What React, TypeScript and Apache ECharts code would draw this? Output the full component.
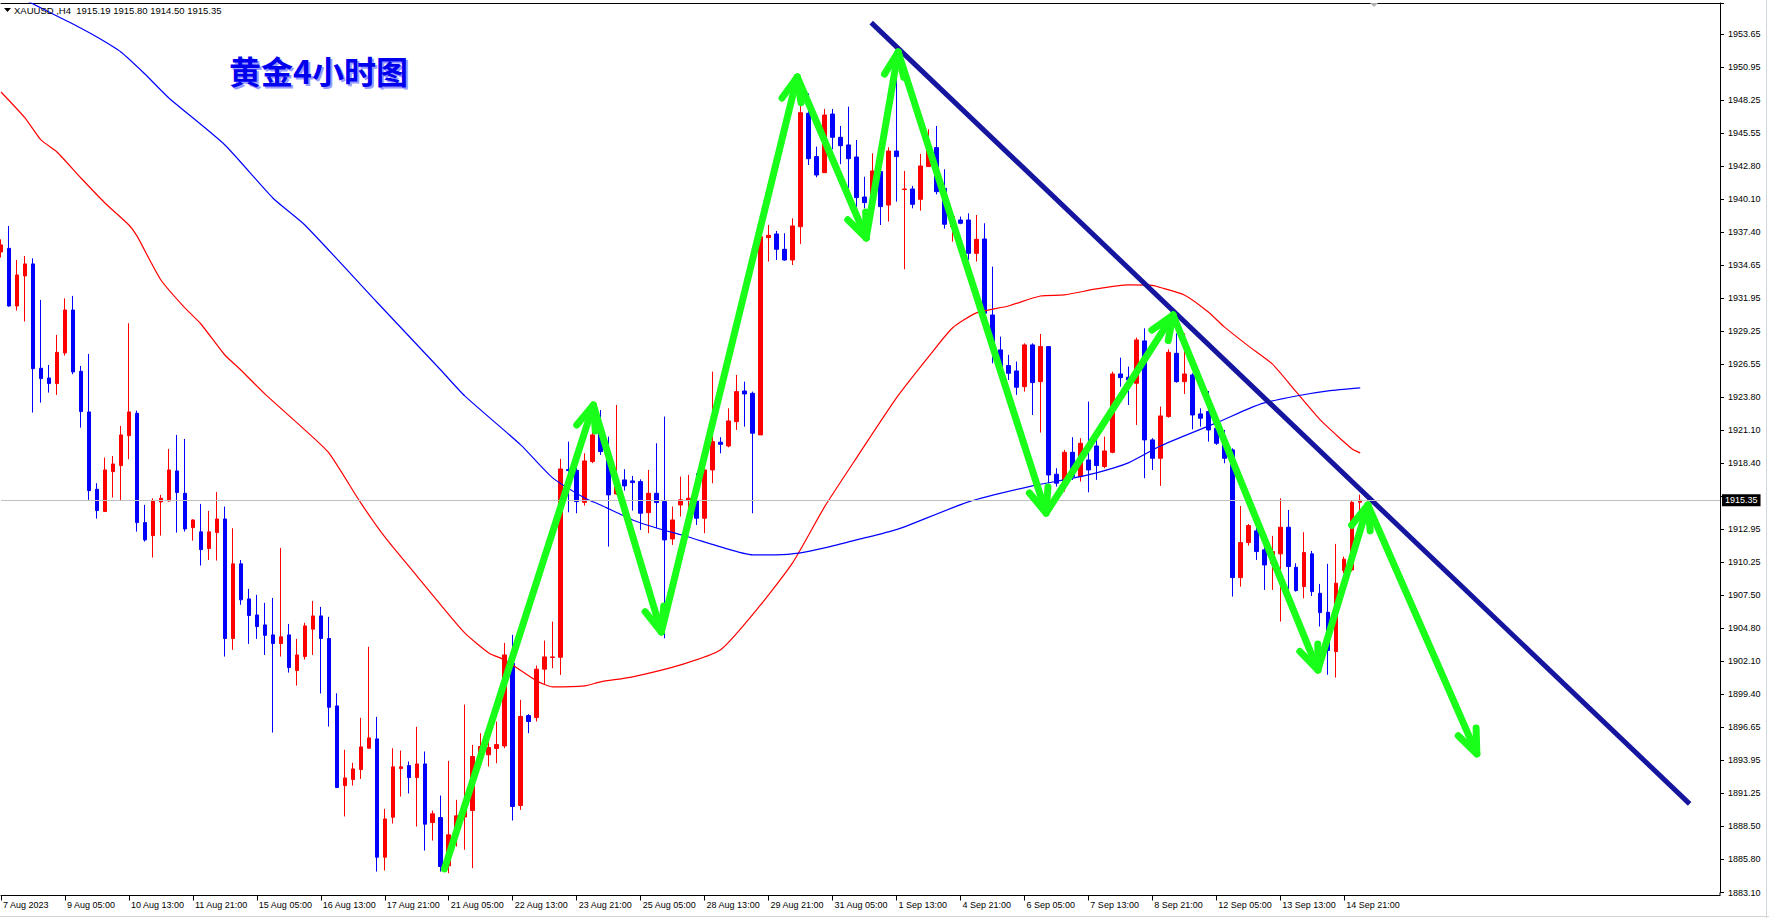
import React, { useEffect, useRef } from 'react';
import * as echarts from 'echarts';

const W = 1769;
const H = 918;
const N_SLOTS = 216; // category slots (bars + empty space on the right)

// x-axis labels, one every 8 bars (H4 candles)
const timeLabels = [
  '7 Aug 2023', '9 Aug 05:00', '10 Aug 13:00', '11 Aug 21:00', '15 Aug 05:00', '16 Aug 13:00',
  '17 Aug 21:00', '21 Aug 05:00', '22 Aug 13:00', '23 Aug 21:00', '25 Aug 05:00', '28 Aug 13:00',
  '29 Aug 21:00', '31 Aug 05:00', '1 Sep 13:00', '4 Sep 21:00', '6 Sep 05:00', '7 Sep 13:00',
  '8 Sep 21:00', '12 Sep 05:00', '13 Sep 13:00', '14 Sep 21:00',
];

// price-scale labels (bottom to top); the 1915.65 level is hidden under the last-price box
const yTickLabels = [
  '1883.10', '1885.80', '1888.50', '1891.25', '1893.95', '1896.65', '1899.40', '1902.10', '1904.80',
  '1907.50', '1910.25', '1912.95', '', '1918.40', '1921.10', '1923.80', '1926.55', '1929.25',
  '1931.95', '1934.65', '1937.40', '1940.10', '1942.80', '1945.55', '1948.25', '1950.95', '1953.65',
];
const yTickBase = 1883.10;
const yTickStep = 2.7135;
const yMin = 1883.10;
const yMax = 1956.23;

// OHLC of the visible bars
const opens = [
  1935.76, 1936.06, 1931.32, 1933.79, 1934.78, 1926.20, 1925.40, 1924.94, 1927.46, 1930.99,
  1925.95, 1922.61, 1916.25, 1914.42, 1917.70, 1918.20, 1920.66, 1922.50, 1913.51, 1912.44,
  1915.21, 1915.29, 1917.76, 1915.92, 1913.10, 1912.75, 1911.38, 1912.69, 1913.81, 1903.98,
  1910.12, 1907.24, 1905.92, 1905.10, 1904.28, 1903.57, 1904.28, 1901.35, 1902.50, 1904.75,
  1905.84, 1903.98, 1898.44, 1891.89, 1892.39, 1893.21, 1894.96, 1895.73, 1886.00, 1889.29,
  1893.29, 1893.54, 1892.55, 1893.67, 1888.85, 1889.26, 1885.29, 1887.84, 1889.30, 1889.84,
  1894.55, 1894.42, 1894.94, 1895.15, 1901.95, 1890.25, 1897.65, 1897.48, 1901.46, 1902.42,
  1902.44, 1917.87, 1917.81, 1915.18, 1918.53, 1921.40, 1919.35, 1915.87, 1917.02, 1916.94,
  1916.88, 1914.33, 1915.92, 1915.24, 1912.17, 1914.96, 1915.32, 1915.32, 1913.87, 1917.84,
  1920.12, 1919.81, 1921.81, 1924.33, 1924.14, 1920.72, 1936.94, 1937.24, 1935.98, 1935.10,
  1937.84, 1947.16, 1943.60, 1942.28, 1947.10, 1945.19, 1944.56, 1943.57, 1940.28, 1939.76,
  1942.37, 1939.62, 1944.06, 1940.89, 1940.94, 1940.09, 1942.78, 1944.34, 1940.99, 1937.84,
  1938.39, 1938.39, 1935.65, 1936.83, 1930.58, 1927.71, 1926.42, 1925.98, 1924.69, 1928.12,
  1925.10, 1927.98, 1917.49, 1916.47, 1919.29, 1917.29, 1918.66, 1919.81, 1918.12, 1919.29,
  1925.73, 1925.46, 1924.97, 1928.45, 1920.31, 1918.80, 1922.23, 1927.43, 1925.10, 1925.65,
  1922.45, 1922.64, 1921.27, 1920.03, 1919.49, 1908.99, 1911.87, 1912.83, 1911.27, 1910.17,
  1910.94, 1913.13, 1909.84, 1908.25, 1910.94, 1907.70, 1906.14, 1902.91, 1909.57, 1909.62,
  1915.19,
];
const highs = [
  1936.80, 1937.90, 1935.10, 1935.43, 1935.24, 1931.82, 1926.47, 1928.94, 1931.95, 1932.15,
  1926.39, 1927.38, 1916.75, 1918.86, 1918.99, 1921.46, 1929.90, 1922.72, 1914.97, 1915.51,
  1915.79, 1919.57, 1920.72, 1920.39, 1913.79, 1915.05, 1914.47, 1916.03, 1914.83, 1913.05,
  1910.44, 1908.06, 1907.57, 1906.91, 1907.32, 1911.43, 1905.18, 1903.95, 1905.27, 1907.07,
  1906.58, 1905.76, 1899.48, 1894.83, 1893.76, 1897.46, 1903.30, 1897.54, 1889.98, 1894.96,
  1894.77, 1893.87, 1896.72, 1894.69, 1889.84, 1891.07, 1893.92, 1890.72, 1898.55, 1895.24,
  1896.20, 1896.74, 1897.15, 1903.62, 1904.28, 1898.94, 1897.76, 1901.76, 1903.81, 1905.37,
  1918.75, 1920.17, 1918.39, 1919.21, 1921.40, 1922.77, 1920.58, 1923.18, 1917.90, 1917.35,
  1917.07, 1917.84, 1920.03, 1922.23, 1914.83, 1917.29, 1917.43, 1917.57, 1917.98, 1925.92,
  1920.53, 1922.91, 1925.65, 1925.10, 1924.28, 1937.16, 1937.98, 1937.49, 1937.30, 1938.53,
  1948.80, 1948.80, 1944.42, 1947.52, 1947.52, 1946.12, 1947.71, 1944.97, 1941.95, 1943.87,
  1942.78, 1944.37, 1950.80, 1942.42, 1941.19, 1943.82, 1945.85, 1946.12, 1942.56, 1938.94,
  1938.67, 1938.94, 1938.80, 1938.12, 1934.56, 1928.80, 1927.30, 1926.75, 1928.25, 1928.25,
  1929.02, 1927.98, 1917.98, 1919.49, 1920.53, 1920.45, 1923.46, 1920.58, 1920.58, 1925.92,
  1927.07, 1926.34, 1928.72, 1929.49, 1920.45, 1923.05, 1927.76, 1929.07, 1929.07, 1925.79,
  1922.91, 1924.33, 1921.40, 1921.13, 1919.62, 1914.88, 1913.40, 1913.10, 1911.68, 1912.42,
  1915.51, 1914.55, 1910.17, 1912.72, 1911.18, 1908.47, 1910.12, 1911.76, 1910.72, 1915.32,
  1915.80,
];
const lows = [
  1935.30, 1931.27, 1930.94, 1930.04, 1922.56, 1923.38, 1924.20, 1924.01, 1927.24, 1925.71,
  1921.32, 1915.38, 1913.84, 1914.42, 1915.57, 1915.32, 1918.72, 1912.77, 1911.95, 1910.64,
  1912.44, 1915.24, 1912.69, 1912.77, 1912.03, 1909.98, 1910.44, 1910.39, 1902.50, 1903.05,
  1906.75, 1903.54, 1903.95, 1902.63, 1896.25, 1902.50, 1901.18, 1900.11, 1902.25, 1902.63,
  1899.46, 1896.74, 1891.68, 1889.35, 1891.89, 1892.44, 1894.96, 1884.82, 1884.91, 1888.77,
  1890.99, 1891.24, 1888.52, 1886.55, 1887.37, 1884.82, 1884.69, 1886.88, 1886.61, 1885.10,
  1893.46, 1893.46, 1893.73, 1894.96, 1889.02, 1889.89, 1896.20, 1897.16, 1900.17, 1901.54,
  1900.99, 1914.36, 1914.28, 1914.91, 1918.40, 1919.07, 1911.54, 1915.79, 1916.14, 1914.50,
  1912.91, 1912.64, 1913.05, 1904.00, 1911.68, 1914.01, 1914.28, 1913.32, 1912.64, 1916.75,
  1919.21, 1919.70, 1921.13, 1921.40, 1914.28, 1920.72, 1934.97, 1935.10, 1935.05, 1934.69,
  1936.42, 1942.91, 1941.90, 1942.28, 1944.20, 1942.98, 1940.99, 1939.43, 1939.35, 1939.49,
  1937.98, 1938.26, 1939.90, 1934.34, 1939.35, 1939.16, 1942.78, 1940.50, 1937.68, 1936.61,
  1938.04, 1935.10, 1934.97, 1930.45, 1926.61, 1925.19, 1925.24, 1924.01, 1924.28, 1922.36,
  1920.91, 1916.75, 1916.47, 1916.06, 1917.02, 1916.88, 1916.00, 1917.02, 1917.98, 1919.21,
  1924.69, 1923.18, 1921.54, 1917.16, 1917.84, 1916.53, 1922.14, 1925.02, 1924.09, 1921.18,
  1921.40, 1920.17, 1919.90, 1918.39, 1907.43, 1908.25, 1911.62, 1910.44, 1907.98, 1907.98,
  1905.37, 1907.98, 1907.84, 1907.29, 1907.48, 1904.97, 1901.00, 1900.77, 1909.35, 1909.49,
  1914.50,
];
const closes = [
  1936.34, 1931.32, 1933.87, 1934.78, 1926.17, 1925.35, 1924.94, 1927.51, 1930.99, 1925.90,
  1922.64, 1916.14, 1914.50, 1917.84, 1918.33, 1920.72, 1922.61, 1913.51, 1912.09, 1915.29,
  1915.51, 1917.84, 1915.98, 1912.99, 1913.73, 1911.29, 1912.75, 1913.81, 1903.98, 1910.12,
  1907.16, 1905.87, 1904.96, 1904.24, 1903.57, 1904.12, 1901.59, 1902.63, 1905.02, 1905.84,
  1903.98, 1898.33, 1891.73, 1892.52, 1893.26, 1895.07, 1895.81, 1886.00, 1889.15, 1893.43,
  1893.43, 1892.55, 1893.67, 1888.72, 1889.57, 1885.24, 1887.84, 1889.40, 1890.20, 1894.28,
  1895.10, 1895.02, 1895.26, 1902.63, 1890.17, 1897.57, 1897.16, 1901.46, 1902.47, 1902.47,
  1917.92, 1917.79, 1915.24, 1918.58, 1920.72, 1919.35, 1915.79, 1916.47, 1916.53, 1916.80,
  1914.28, 1915.92, 1915.16, 1912.09, 1913.73, 1915.38, 1915.51, 1913.87, 1917.84, 1920.17,
  1919.95, 1921.87, 1924.28, 1924.09, 1920.86, 1937.02, 1937.13, 1935.98, 1935.10, 1937.90,
  1947.21, 1943.43, 1942.09, 1947.02, 1945.19, 1944.50, 1943.43, 1940.23, 1939.82, 1942.42,
  1939.49, 1944.06, 1943.60, 1940.94, 1939.68, 1942.83, 1944.15, 1940.72, 1938.04, 1938.67,
  1938.12, 1935.65, 1936.80, 1930.72, 1927.71, 1926.34, 1925.79, 1924.64, 1928.12, 1925.02,
  1927.98, 1917.43, 1916.75, 1919.29, 1917.29, 1920.03, 1917.84, 1918.20, 1919.40, 1925.73,
  1925.43, 1925.24, 1928.53, 1920.31, 1918.80, 1922.28, 1927.51, 1925.10, 1925.73, 1922.36,
  1922.09, 1921.13, 1920.03, 1918.80, 1908.99, 1911.87, 1913.27, 1911.13, 1910.03, 1911.13,
  1913.13, 1909.90, 1907.92, 1911.05, 1907.84, 1906.11, 1903.00, 1908.53, 1910.50, 1915.18,
  1915.35,
];

// moving averages, read at sample bars (bar slot, price)
const maRedSlot = [
  0, 3, 5, 7, 10, 13, 16, 17, 20, 23, 25, 28, 30, 33, 38, 41, 45, 48, 52, 55, 58, 61, 63, 67, 69, 73,
  75, 79, 85, 90, 95, 99, 103, 107, 112, 116, 119, 122, 126, 130, 133, 137, 141, 144, 145, 148, 151,
  153, 156, 159, 162, 165, 167, 169, 170,
];
const maRedVal = [
  1948.91, 1946.78, 1944.97, 1943.98, 1941.84, 1939.79, 1937.98, 1937.08, 1933.46, 1931.16, 1929.84,
  1927.29, 1926.06, 1924.09, 1921.13, 1919.24, 1915.13, 1912.33, 1909.13, 1906.74, 1904.44, 1902.80,
  1902.22, 1900.50, 1900.00, 1900.09, 1900.42, 1900.83, 1901.81, 1903.05, 1906.74, 1910.20, 1914.80,
  1918.83, 1923.76, 1927.13, 1929.51, 1930.75, 1931.32, 1932.14, 1932.23, 1932.72, 1933.05, 1933.01,
  1932.84, 1932.23, 1930.83, 1929.60, 1928.04, 1926.56, 1924.25, 1921.95, 1920.72, 1919.57, 1919.24,
];
const maBlueSlot = [
  0, 3, 6, 9, 12, 15, 18, 21, 28, 34, 38, 47, 55, 58, 65, 69, 73, 75, 79, 82, 86, 90, 94, 97, 100,
  103, 107, 111, 113, 121, 129, 133, 137, 141, 145, 148, 152, 156, 158, 162, 166, 170,
];
const maBlueVal = [
  1957.38, 1956.48, 1955.49, 1954.50, 1953.43, 1952.20, 1950.39, 1948.42, 1944.56, 1940.20, 1937.98,
  1931.65, 1926.06, 1923.93, 1919.90, 1917.19, 1915.54, 1914.96, 1913.73, 1913.07, 1912.33, 1911.51,
  1910.86, 1910.86, 1911.02, 1911.43, 1912.09, 1912.75, 1913.16, 1915.21, 1916.53, 1917.02, 1917.60,
  1918.42, 1919.81, 1920.64, 1921.71, 1922.86, 1923.35, 1923.92, 1924.34, 1924.58,
];

// hand-drawn annotations (bar slot, price)
const zigzag = [
  [55.46, 1885.03], [74.09, 1923.18], [82.59, 1904.52], [99.59, 1950.15], [108.21, 1936.91],
  [112.21, 1952.20], [130.71, 1914.30], [146.59, 1930.58], [164.71, 1901.39], [170.96, 1914.96],
  [184.59, 1894.49],
];
const trendline = [[108.84, 1954.62], [211.2, 1890.39]];
const lastPrice = 1915.35;
const headerText = 'XAUUSD ,H4  1915.19 1915.80 1914.50 1915.35';
const titleText = '黄金4小时图';

const LABEL_FONT = 'Liberation Sans, Arial, sans-serif';

export default function App() {
  const ref = useRef<HTMLDivElement>(null);

  useEffect(() => {
    if (!ref.current) return;
    const chart = echarts.init(ref.current, null, { renderer: 'svg' });

    const categories = Array.from({ length: N_SLOTS }, (_, k) => String(k));
    const candles = opens.map((o, k) => [o, closes[k], lows[k], highs[k]]);
    const showLabel = (index: number) => index % 8 === 0 && index / 8 < timeLabels.length;
    const arrowSegs = zigzag.slice(0, -1).map((p, j) => [p[0], p[1], zigzag[j + 1][0], zigzag[j + 1][1]]);

    const gridTop = 3;
    const gridHeight = 889.5;

    const option: any = {
      animation: false,
      backgroundColor: '#ffffff',
      grid: { left: 0, top: gridTop, width: 1720, height: gridHeight, containLabel: false },
      xAxis: [
        {
          type: 'category',
          data: categories,
          boundaryGap: false,
          position: 'bottom',
          offset: 3,
          axisLine: { show: true, onZero: false, lineStyle: { color: '#000', width: 1 } },
          axisTick: { show: true, interval: showLabel, length: 5, lineStyle: { color: '#000' } },
          axisLabel: {
            show: true,
            interval: showLabel,
            formatter: (_v: string, index: number) => timeLabels[index / 8] ?? '',
            align: 'left',
            padding: [0, 0, 0, 2],
            margin: 5,
            fontSize: 9,
            fontFamily: LABEL_FONT,
            color: '#000',
          },
          splitLine: { show: false },
        },
        {
          type: 'value',
          min: 0,
          max: N_SLOTS - 1,
          position: 'top',
          axisLine: { show: true, onZero: false, lineStyle: { color: '#000', width: 1 } },
          axisTick: { show: false },
          axisLabel: { show: false },
          splitLine: { show: false },
        },
      ],
      yAxis: [
        { type: 'value', min: yMin, max: yMax, position: 'right', show: false, splitLine: { show: false } },
        {
          type: 'value',
          min: 0,
          max: (yMax - yTickBase) / yTickStep,
          interval: 1,
          position: 'right',
          axisLine: { show: true, onZero: false, lineStyle: { color: '#000', width: 1 } },
          axisTick: { show: true, length: 4, lineStyle: { color: '#000' } },
          axisLabel: {
            margin: 8,
            fontSize: 9,
            fontFamily: LABEL_FONT,
            color: '#000',
            formatter: (v: number) => {
              const r = Math.round(v);
              return Math.abs(v - r) < 1e-6 ? yTickLabels[r] ?? '' : '';
            },
          },
          splitLine: { show: false },
        },
      ],
      series: [
        {
          type: 'line',
          name: 'price',
          xAxisIndex: 1,
          yAxisIndex: 0,
          data: [],
          z: 1,
          clip: false,
          silent: true,
          markLine: {
            silent: true,
            symbol: ['none', 'none'],
            animation: false,
            data: [{ yAxis: lastPrice }],
            lineStyle: { color: '#c0c0c0', width: 1, type: 'solid' },
            label: {
              show: true,
              position: 'end',
              formatter: lastPrice.toFixed(2),
              color: '#fff',
              backgroundColor: '#000',
              padding: [2, 3, 1, 3],
              fontSize: 9,
              fontFamily: LABEL_FONT,
              distance: 2,
            },
          },
        },
        {
          type: 'candlestick',
          xAxisIndex: 0,
          yAxisIndex: 0,
          data: candles,
          barWidth: 4,
          z: 2,
          silent: true,
          itemStyle: {
            color: '#ff0000',
            color0: '#0000ff',
            borderColor: '#ff0000',
            borderColor0: '#0000ff',
            borderWidth: 1,
          },
        },
        {
          type: 'line',
          xAxisIndex: 1,
          yAxisIndex: 0,
          data: maRedSlot.map((k, j) => [k, maRedVal[j]]),
          showSymbol: false,
          symbol: 'none',
          smooth: 0.2,
          z: 3,
          silent: true,
          lineStyle: { color: '#ff0000', width: 1.2 },
        },
        {
          type: 'line',
          xAxisIndex: 1,
          yAxisIndex: 0,
          data: maBlueSlot.map((k, j) => [k, maBlueVal[j]]),
          showSymbol: false,
          symbol: 'none',
          smooth: 0.2,
          z: 3,
          silent: true,
          lineStyle: { color: '#0000ff', width: 1.2 },
        },
        {
          type: 'line',
          xAxisIndex: 1,
          yAxisIndex: 0,
          data: trendline,
          showSymbol: false,
          symbol: 'none',
          z: 4,
          silent: true,
          lineStyle: { color: '#15159f', width: 5 },
        },
        {
          type: 'custom',
          xAxisIndex: 1,
          yAxisIndex: 0,
          data: arrowSegs,
          encode: { x: [0, 2], y: [1, 3] },
          z: 5,
          silent: true,
          renderItem: (_params: any, api: any) => {
            const a = api.coord([api.value(0), api.value(1)]);
            const b = api.coord([api.value(2), api.value(3)]);
            const back = Math.atan2(a[1] - b[1], a[0] - b[0]);
            const len = 26;
            const spread = (22 * Math.PI) / 180;
            const b1 = [b[0] + len * Math.cos(back + spread), b[1] + len * Math.sin(back + spread)];
            const b2 = [b[0] + len * Math.cos(back - spread), b[1] + len * Math.sin(back - spread)];
            const style = { stroke: '#1aff1a', lineWidth: 7, lineCap: 'round', lineJoin: 'round', fill: null };
            return {
              type: 'group',
              children: [
                { type: 'polyline', shape: { points: [a, b] }, style },
                { type: 'polyline', shape: { points: [b1, b, b2] }, style },
              ],
            };
          },
        },
      ],
      graphic: [
        { type: 'polygon', z: 10, shape: { points: [[4, 8], [11, 8], [7.5, 12]] }, style: { fill: '#000' } },
        {
          type: 'text',
          z: 10,
          left: 14,
          top: 5,
          style: { text: headerText, fontSize: 9.5, fontFamily: LABEL_FONT, fill: '#000' },
        },
        {
          type: 'text',
          z: 10,
          left: 231,
          top: 56,
          style: {
            text: titleText,
            fontSize: 32,
            fontWeight: 'bold',
            fontFamily: 'Noto Sans CJK SC',
            fill: '#9a9aff',
          },
        },
        {
          type: 'text',
          z: 11,
          left: 229,
          top: 54,
          style: {
            text: titleText,
            fontSize: 32,
            fontWeight: 'bold',
            fontFamily: 'Noto Sans CJK SC',
            fill: '#0000ee',
          },
        },
        { type: 'polygon', z: 10, shape: { points: [[1370, 3], [1378, 3], [1374, 7]] }, style: { fill: '#b0b0b0' } },
        { type: 'line', z: 10, shape: { x1: 1720, y1: 892.5, x2: 1720, y2: 895.5 }, style: { stroke: '#000', lineWidth: 1 } },
        { type: 'line', z: 10, shape: { x1: 1766.5, y1: 0, x2: 1766.5, y2: H }, style: { stroke: '#d0d7df', lineWidth: 1 } },
        { type: 'line', z: 10, shape: { x1: 0, y1: 916.5, x2: W, y2: 916.5 }, style: { stroke: '#d4d4d4', lineWidth: 1 } },
      ],
    };

    chart.setOption(option);
    return () => {
      chart.dispose();
    };
  }, []);

  return (
    <div
      ref={ref}
      style={{ position: 'fixed', left: 0, top: 0, width: W, height: H, background: '#fff' }}
    />
  );
}
